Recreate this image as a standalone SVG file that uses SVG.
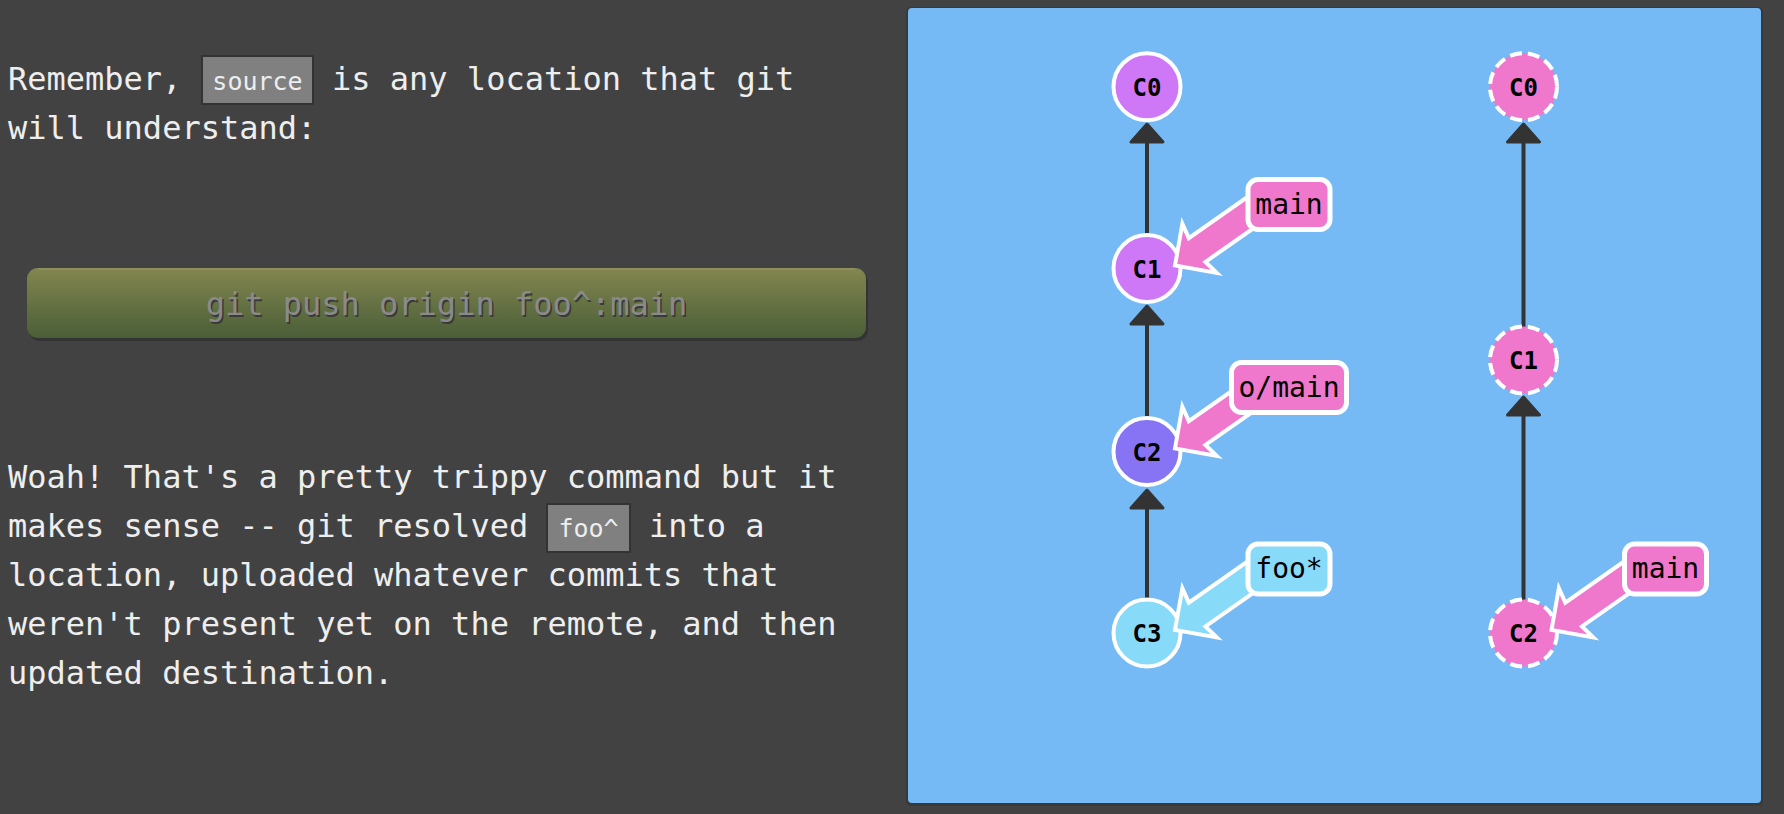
<svg xmlns="http://www.w3.org/2000/svg" xmlns:xlink="http://www.w3.org/1999/xlink" width="1784" height="814" viewBox="0 0 1784 814">
  <style>
    .txt { font-family: "DejaVu Sans Mono", "Liberation Mono", monospace; font-size: 32px; fill: #eeeeee; }
    .code { fill: #808080; stroke: #333333; stroke-width: 2; }
    .codetxt { font-family: "DejaVu Sans Mono", "Liberation Mono", monospace; font-size: 25px; fill: #eeeeee; text-anchor: middle; }
    .cmd { font-family: "DejaVu Sans Mono", "Liberation Mono", monospace; font-size: 32px; fill: #8a8a8a; text-anchor: middle; }
    .edge { stroke: #333333; stroke-width: 4; fill: none; }
    .head { fill: #333333; stroke: #333333; stroke-width: 3; stroke-linejoin: round; }
    .commit { stroke: #ffffff; stroke-width: 4; }
    .remote { stroke-dasharray: 12 6; }
    .ctxt { font-family: "DejaVu Sans Mono", "Liberation Mono", monospace; font-size: 24px; font-weight: bold; fill: #000000; text-anchor: middle; }
    .lbl { stroke: #ffffff; stroke-width: 5; }
    .ltxt { font-family: "DejaVu Sans Mono", "Liberation Mono", monospace; font-size: 28px; fill: #000000; text-anchor: middle; }
  </style>
  <defs>
    <linearGradient id="bar" x1="0" y1="0" x2="0" y2="1">
      <stop offset="0" stop-color="#83864f"/>
      <stop offset="1" stop-color="#4a5e38"/>
    </linearGradient>
    <polygon id="ptr" points="0,0 30,-30 27,-14.5 122,-14.5 122,14.5 27,14.5 30,30" stroke="#ffffff" stroke-width="4" stroke-linejoin="miter" stroke-miterlimit="6"/>
  </defs>

  <rect x="0" y="0" width="1784" height="814" fill="#424242"/>

  <!-- left text -->
  <g id="intro">
    <text class="txt" x="8" y="89.5">Remember, </text>
    <rect class="code" x="202" y="56" width="111" height="48"/>
    <text class="codetxt" x="257.5" y="89.5">source</text>
    <text class="txt" x="332" y="89.5">is any location that git</text>
    <text class="txt" x="8" y="138.5">will understand:</text>
  </g>

  <g id="command">
    <rect x="29" y="271" width="839" height="70" rx="11" fill="#2e2e2e" opacity="0.7"/>
    <rect x="27" y="268" width="839" height="70" rx="11" fill="url(#bar)"/>
    <path d="M38,269 H855" stroke="#9a9c6a" stroke-width="1.5" opacity="0.6"/>
    <text class="cmd" x="448" y="317" style="fill:#3a3a3a">git push origin foo^:main</text>
    <text class="cmd" x="446.5" y="315">git push origin foo^:main</text>
  </g>

  <g id="explanation">
    <text class="txt" x="8" y="488">Woah! That's a pretty trippy command but it</text>
    <text class="txt" x="8" y="537">makes sense -- git resolved </text>
    <rect class="code" x="547" y="504" width="83" height="48"/>
    <text class="codetxt" x="588.5" y="537">foo^</text>
    <text class="txt" x="649" y="537">into a</text>
    <text class="txt" x="8" y="586">location, uploaded whatever commits that</text>
    <text class="txt" x="8" y="635">weren't present yet on the remote, and then</text>
    <text class="txt" x="8" y="684">updated destination.</text>
  </g>

  <!-- visualization panel -->
  <rect x="906" y="7" width="857" height="799" rx="5" fill="#333333" opacity="0.6"/>
  <rect id="panel" x="908" y="8" width="853" height="795" rx="4" fill="#75baf4"/>

  <g id="connectors">
    <line class="edge" x1="1147" y1="236" x2="1147" y2="140"/>
    <path class="head" d="M1147,124 L1163,142 L1131,142 Z"/>
    <line class="edge" x1="1147" y1="419" x2="1147" y2="322"/>
    <path class="head" d="M1147,306 L1163,324 L1131,324 Z"/>
    <line class="edge" x1="1147" y1="600" x2="1147" y2="506"/>
    <path class="head" d="M1147,490 L1163,508 L1131,508 Z"/>

    <line class="edge" x1="1523.5" y1="327" x2="1523.5" y2="140"/>
    <path class="head" d="M1523.5,124 L1539.5,142 L1507.5,142 Z"/>
    <line class="edge" x1="1523.5" y1="600" x2="1523.5" y2="413"/>
    <path class="head" d="M1523.5,397 L1539.5,415 L1507.5,415 Z"/>
  </g>

  <!-- local commits -->
  <g id="local-C0">
    <circle class="commit" cx="1147" cy="86.7" r="33.5" fill="#ce78f7"/>
    <text class="ctxt" x="1147" y="95.5">C0</text>
  </g>
  <g id="local-C1">
    <circle class="commit" cx="1147" cy="268.5" r="33.5" fill="#ce78f7"/>
    <text class="ctxt" x="1147" y="277.5">C1</text>
  </g>
  <g id="local-C2">
    <circle class="commit" cx="1147" cy="451.5" r="33.5" fill="#8774f5"/>
    <text class="ctxt" x="1147" y="460.5">C2</text>
  </g>
  <g id="local-C3">
    <circle class="commit" cx="1147" cy="633" r="33.5" fill="#88daf9"/>
    <text class="ctxt" x="1147" y="642">C3</text>
  </g>

  <!-- remote commits -->
  <g id="remote-C0">
    <circle class="commit remote" cx="1523.5" cy="86.7" r="33.5" fill="#ef77cc"/>
    <text class="ctxt" x="1523.5" y="95.5">C0</text>
  </g>
  <g id="remote-C1">
    <circle class="commit remote" cx="1523.5" cy="360" r="33.5" fill="#ef77cc"/>
    <text class="ctxt" x="1523.5" y="369">C1</text>
  </g>
  <g id="remote-C2">
    <circle class="commit remote" cx="1523.5" cy="633" r="33.5" fill="#ef77cc"/>
    <text class="ctxt" x="1523.5" y="642">C2</text>
  </g>

  <!-- branch labels -->
  <g id="branch-main">
    <use xlink:href="#ptr" href="#ptr" transform="translate(1175,265.5) rotate(-35)" fill="#ef77cc"/>
    <rect class="lbl" x="1248" y="179.5" width="82" height="50" rx="10" fill="#ef77cc"/>
    <text class="ltxt" x="1289" y="213.5">main</text>
  </g>
  <g id="branch-o-main">
    <use xlink:href="#ptr" href="#ptr" transform="translate(1175,448.5) rotate(-35)" fill="#ef77cc"/>
    <rect class="lbl" x="1231.5" y="362.5" width="115" height="50" rx="10" fill="#ef77cc"/>
    <text class="ltxt" x="1289" y="396.5">o/main</text>
  </g>
  <g id="branch-foo">
    <use xlink:href="#ptr" href="#ptr" transform="translate(1175,630) rotate(-35)" fill="#88daf9"/>
    <rect class="lbl" x="1248" y="544" width="82" height="50" rx="10" fill="#88daf9"/>
    <text class="ltxt" x="1289" y="578">foo*</text>
  </g>
  <g id="remote-branch-main">
    <use xlink:href="#ptr" href="#ptr" transform="translate(1551.5,630) rotate(-35)" fill="#ef77cc"/>
    <rect class="lbl" x="1624.5" y="544" width="82" height="50" rx="10" fill="#ef77cc"/>
    <text class="ltxt" x="1665.5" y="578">main</text>
  </g>
</svg>
